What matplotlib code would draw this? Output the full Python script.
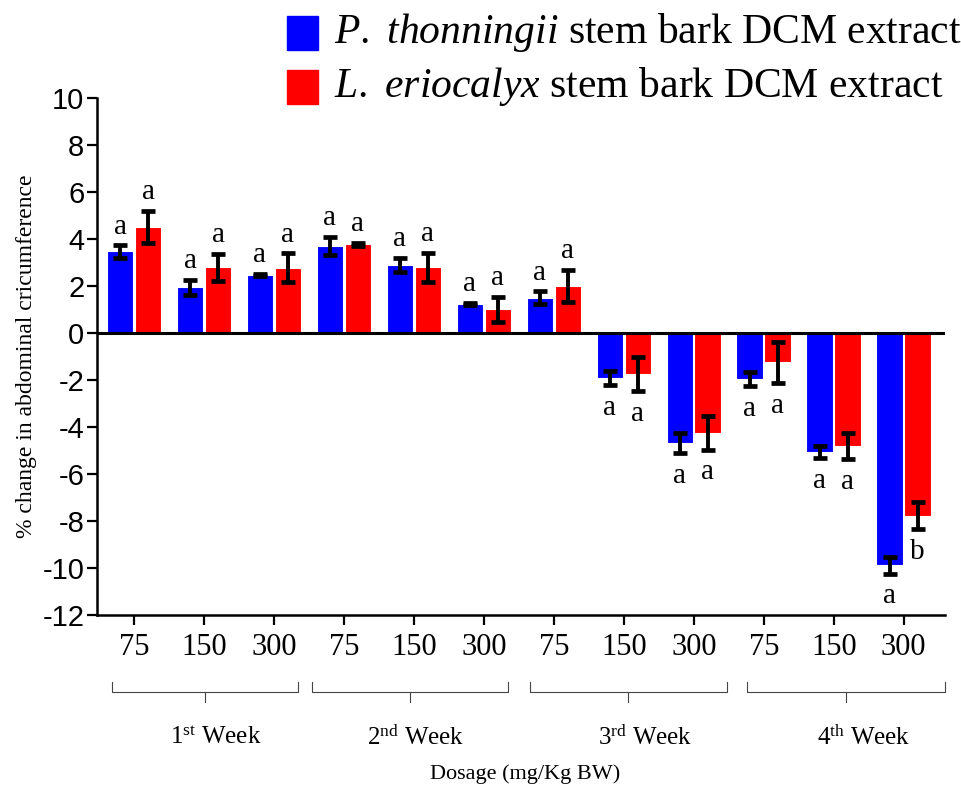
import matplotlib
matplotlib.use("Agg")
import matplotlib.pyplot as plt
import matplotlib.transforms as mtransforms
from matplotlib.patches import Rectangle
import numpy as np

plt.rcParams['font.family'] = 'Liberation Serif'
plt.rcParams['mathtext.fontset'] = 'custom'
plt.rcParams['mathtext.rm'] = 'Liberation Serif'
plt.rcParams['mathtext.it'] = 'Liberation Serif:italic'

# % change in abdominal circumference, mean and error per dose/week
doses = ['75', '150', '300'] * 4
weeks = ['1$^{\\mathrm{st}}$ Week', '2$^{\\mathrm{nd}}$ Week',
         '3$^{\\mathrm{rd}}$ Week', '4$^{\\mathrm{th}}$ Week']
pt_mean = [3.47, 1.94, 2.48, 3.71, 2.90, 1.24, 1.50, -1.91, -4.68, -1.96, -5.06, -9.89]
pt_err = [0.27, 0.32, 0.05, 0.39, 0.30, 0.04, 0.27, 0.30, 0.44, 0.30, 0.26, 0.35]
le_mean = [4.50, 2.80, 2.78, 3.78, 2.80, 1.00, 2.00, -1.75, -4.26, -1.25, -4.82, -7.77]
le_err = [0.69, 0.57, 0.61, 0.07, 0.62, 0.55, 0.69, 0.72, 0.71, 0.87, 0.55, 0.57]
pt_sig = ['a'] * 12
le_sig = ['a'] * 11 + ['b']

x = np.arange(len(doses))
fig = plt.figure(figsize=(9.62, 7.87), dpi=100)
ax = fig.add_axes([0.1008, 0.2186, 0.8815, 0.6569])

w = 0.38
ax.bar(x - 0.2, pt_mean, w, color='#0000ff', edgecolor='white', linewidth=0.8, zorder=2)
ax.bar(x + 0.2, le_mean, w, color='#ff0000', edgecolor='white', linewidth=0.8, zorder=2)
ax.errorbar(x - 0.2, pt_mean, yerr=pt_err, fmt='none', ecolor='black',
            elinewidth=2.8, capsize=5, capthick=3.4, zorder=3)
ax.errorbar(x + 0.2, le_mean, yerr=le_err, fmt='none', ecolor='black',
            elinewidth=2.8, capsize=5, capthick=3.4, zorder=3)

# significance letters above/below the error bars
for off, means, errs, sigs in [(-0.2, pt_mean, pt_err, pt_sig), (0.2, le_mean, le_err, le_sig)]:
    for xi, m, e, s in zip(x, means, errs, sigs):
        if m >= 0:
            ax.annotate(s, (xi + off, m + e), xytext=(0, 4), textcoords='offset points',
                        ha='center', va='bottom', fontsize=21)
        else:
            ax.annotate(s, (xi + off, m - e), xytext=(0, -7), textcoords='offset points',
                        ha='center', va='top', fontsize=21)

ax.axhline(0, color='black', lw=2.2, zorder=4)

ax.set_xlim(-0.53, 11.59)
ax.set_ylim(-12, 10)
ax.set_yticks(np.arange(-12, 11, 2))
ax.set_yticklabels([str(v) for v in range(-12, 11, 2)], family='Liberation Sans', fontsize=21)
ax.set_xticks(x)
ax.set_xticklabels(doses, fontsize=22)
ax.tick_params(axis='both', width=1.6, length=7, direction='out')
ax.tick_params(axis='x', pad=6)
ax.tick_params(axis='y', pad=2)
for side in ['top', 'right']:
    ax.spines[side].set_visible(False)
for side in ['left', 'bottom']:
    ax.spines[side].set_linewidth(1.8)
ax.set_ylabel('% change in abdominal cricumference', fontsize=17, labelpad=4)

# week brackets under the dose labels
trans = mtransforms.blended_transform_factory(ax.transData, fig.transFigure)
brackets = [(-0.31, 2.34), (2.54, 5.34), (5.66, 8.47), (8.76, 11.59)]
y_h, y_end, y_mid = 0.121, 0.133, 0.108
for (a, b), wk, lx in zip(brackets, weeks, [1.17, 4.03, 7.31, 10.43]):
    c = (a + b) / 2
    ax.plot([a, a, b, b], [y_end, y_h, y_h, y_end], color='#444444', lw=0.8,
            transform=trans, clip_on=False)
    ax.plot([c, c], [y_h, y_mid], color='#444444', lw=0.8, transform=trans, clip_on=False)
    ax.text(lx, 0.063, wk, transform=trans, ha='center', va='center', fontsize=18)

fig.text(0.546, 0.016, 'Dosage (mg/Kg BW)', ha='center', va='center', fontsize=16)

# legend
labels = ['$\\mathit{P.}$ $\\mathit{thonningii}$ stem bark DCM extract',
          '$\\mathit{L.}$ $\\mathit{eriocalyx}$ stem bark DCM extract']
for i, (col, lab) in enumerate(zip(['#0000ff', '#ff0000'], labels)):
    yc = 1 - (33 + i * 54) / 787
    fig.add_artist(Rectangle((287 / 962, yc - 17 / 787), 31 / 962, 34 / 787,
                             transform=fig.transFigure, color=col))
    fig.text(334 / 962, yc, lab, ha='left', va='center', fontsize=30)

fig.savefig('out.png', dpi=100)
